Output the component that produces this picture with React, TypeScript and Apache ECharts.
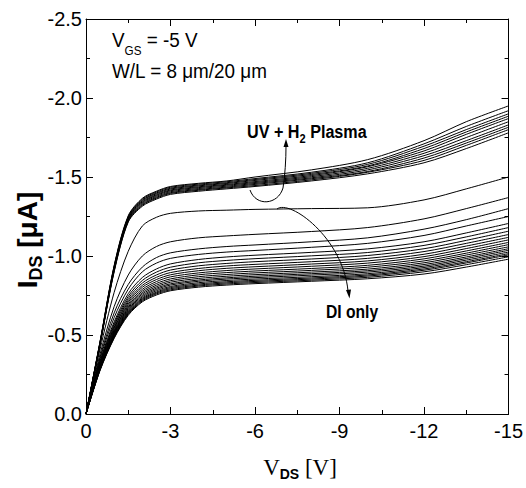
import React, { useEffect, useRef } from 'react';
import * as echarts from 'echarts';

// Drain voltage grid (V)
const vds = [0, -0.5, -1, -1.5, -2, -2.5, -3, -4, -5, -6, -8, -10, -12, -13.5, -15];

// UV + H2 plasma treated devices: I_DS (uA) at each vds point
const uvPlasmaCurves = [
  [0, -0.46, -0.94, -1.255, -1.365, -1.41, -1.44, -1.46, -1.475, -1.5, -1.545, -1.61, -1.73, -1.85, -1.95],
  [0, -0.458, -0.936, -1.25, -1.36, -1.405, -1.435, -1.455, -1.47, -1.49, -1.53, -1.59, -1.71, -1.82, -1.92],
  [0, -0.455, -0.932, -1.246, -1.354, -1.399, -1.429, -1.449, -1.464, -1.484, -1.523, -1.58, -1.695, -1.8, -1.9],
  [0, -0.453, -0.927, -1.241, -1.349, -1.394, -1.424, -1.444, -1.459, -1.478, -1.516, -1.57, -1.68, -1.785, -1.885],
  [0, -0.45, -0.923, -1.237, -1.343, -1.388, -1.418, -1.438, -1.453, -1.471, -1.509, -1.565, -1.665, -1.77, -1.87],
  [0, -0.448, -0.918, -1.233, -1.338, -1.383, -1.413, -1.433, -1.448, -1.465, -1.502, -1.555, -1.65, -1.75, -1.85],
  [0, -0.446, -0.914, -1.228, -1.332, -1.377, -1.407, -1.427, -1.442, -1.459, -1.495, -1.545, -1.635, -1.73, -1.83],
  [0, -0.444, -0.909, -1.224, -1.326, -1.371, -1.401, -1.421, -1.436, -1.453, -1.489, -1.535, -1.62, -1.715, -1.815],
  [0, -0.442, -0.905, -1.219, -1.321, -1.366, -1.396, -1.416, -1.431, -1.446, -1.482, -1.53, -1.605, -1.7, -1.8],
  [0, -0.44, -0.9, -1.215, -1.315, -1.36, -1.39, -1.41, -1.425, -1.44, -1.475, -1.52, -1.59, -1.68, -1.78],
];

// DI-only devices: I_DS (uA) at each vds point
const diOnlyCurves = [
  [0, -0.41, -0.77, -1.03, -1.19, -1.245, -1.27, -1.285, -1.29, -1.295, -1.3, -1.305, -1.355, -1.425, -1.5],
  [0, -0.38, -0.68, -0.88, -1.0, -1.06, -1.09, -1.115, -1.127, -1.137, -1.155, -1.18, -1.235, -1.3, -1.37],
  [0, -0.36, -0.64, -0.82, -0.93, -0.99, -1.02, -1.045, -1.06, -1.07, -1.09, -1.115, -1.17, -1.23, -1.3],
  [0, -0.35, -0.61, -0.79, -0.9, -0.955, -0.985, -1.01, -1.025, -1.035, -1.055, -1.08, -1.13, -1.19, -1.25],
  [0, -0.337, -0.583, -0.762, -0.864, -0.918, -0.95, -0.978, -0.994, -1.005, -1.023, -1.045, -1.09, -1.146, -1.206],
  [0, -0.329, -0.57, -0.745, -0.845, -0.898, -0.929, -0.957, -0.972, -0.983, -1.001, -1.022, -1.067, -1.121, -1.18],
  [0, -0.323, -0.559, -0.731, -0.829, -0.88, -0.911, -0.938, -0.953, -0.964, -0.981, -1.003, -1.046, -1.099, -1.157],
  [0, -0.317, -0.549, -0.718, -0.814, -0.865, -0.895, -0.921, -0.937, -0.947, -0.964, -0.985, -1.028, -1.08, -1.136],
  [0, -0.312, -0.541, -0.707, -0.802, -0.851, -0.881, -0.907, -0.922, -0.932, -0.949, -0.969, -1.011, -1.063, -1.118],
  [0, -0.308, -0.532, -0.696, -0.789, -0.838, -0.868, -0.893, -0.908, -0.918, -0.935, -0.955, -0.996, -1.047, -1.102],
  [0, -0.303, -0.525, -0.686, -0.778, -0.826, -0.855, -0.881, -0.895, -0.905, -0.921, -0.941, -0.982, -1.032, -1.086],
  [0, -0.299, -0.518, -0.677, -0.768, -0.815, -0.844, -0.869, -0.883, -0.893, -0.909, -0.929, -0.969, -1.018, -1.072],
  [0, -0.296, -0.512, -0.669, -0.759, -0.805, -0.834, -0.858, -0.872, -0.882, -0.898, -0.917, -0.957, -1.006, -1.058],
  [0, -0.292, -0.506, -0.661, -0.75, -0.796, -0.824, -0.848, -0.862, -0.872, -0.888, -0.907, -0.946, -0.994, -1.046],
  [0, -0.289, -0.501, -0.654, -0.742, -0.788, -0.816, -0.84, -0.854, -0.863, -0.879, -0.898, -0.936, -0.984, -1.036],
  [0, -0.286, -0.495, -0.647, -0.734, -0.78, -0.807, -0.831, -0.845, -0.854, -0.869, -0.888, -0.927, -0.974, -1.025],
  [0, -0.283, -0.491, -0.641, -0.728, -0.772, -0.8, -0.823, -0.837, -0.846, -0.861, -0.88, -0.918, -0.964, -1.015],
  [0, -0.281, -0.487, -0.636, -0.722, -0.766, -0.793, -0.816, -0.83, -0.839, -0.854, -0.873, -0.91, -0.956, -1.007],
  [0, -0.279, -0.483, -0.631, -0.716, -0.76, -0.786, -0.81, -0.823, -0.832, -0.847, -0.865, -0.9, -0.945, -0.995],
  [0, -0.276, -0.479, -0.625, -0.71, -0.753, -0.78, -0.803, -0.816, -0.825, -0.84, -0.856, -0.886, -0.93, -0.98],
];

// Axis ranges
const xRange = { min: -15, max: 0, interval: 3 };
const yRange = { min: -2.5, max: 0, interval: 0.5 };

const SANS = "'Liberation Sans', Arial, sans-serif";
const SERIF = "'Liberation Serif', 'Times New Roman', serif";

export default function App() {
  const ref = useRef<HTMLDivElement>(null);

  useEffect(() => {
    if (!ref.current) return;
    const chart = echarts.init(ref.current, null, { renderer: 'svg' });

    const mkSeries = (curves: number[][], name: string) =>
      curves.map((c, i) => ({
        type: 'line',
        name: `${name} ${i + 1}`,
        data: vds.map((v, j) => [v, c[j]]),
        showSymbol: false,
        symbol: 'none',
        smooth: 0.3,
        silent: true,
        lineStyle: { color: '#000', width: 1 },
        xAxisIndex: 0,
        yAxisIndex: 0,
      }));

    const axisCommon = {
      type: 'value',
      axisLine: { show: true, onZero: false, lineStyle: { color: '#000', width: 1 } },
      axisTick: { show: true, inside: true, length: 7, lineStyle: { color: '#000', width: 1 } },
      minorTick: { show: true, splitNumber: 2, length: 4, lineStyle: { color: '#000', width: 1 } },
      splitLine: { show: false },
      minorSplitLine: { show: false },
    };

    const labelStyle = { color: '#000', fontSize: 20, fontFamily: SANS };
    const txt = (text: string, x: number, y: number, fontSize: number, extra: any = {}) => ({
      type: 'text', x, y, scaleX: 0.9, z: 100,
      style: { text, fontSize, fontFamily: SANS, fill: '#000', verticalAlign: 'top', ...extra },
    });

    const option = {
      animation: false,
      backgroundColor: '#fff',
      grid: { left: 86, right: 13, top: 19, bottom: 74 },
      xAxis: [
        { ...axisCommon, ...xRange, inverse: true, position: 'bottom', axisLabel: { ...labelStyle, margin: 7 } },
        { ...axisCommon, ...xRange, inverse: true, position: 'top', axisLabel: { show: false } },
      ],
      yAxis: [
        {
          ...axisCommon, ...yRange, inverse: true, position: 'left',
          axisLabel: { ...labelStyle, margin: 4, formatter: (v: number) => v.toFixed(1) },
        },
        { ...axisCommon, ...yRange, inverse: true, position: 'right', axisLabel: { show: false } },
      ],
      series: [...mkSeries(uvPlasmaCurves, 'UV + H2 Plasma'), ...mkSeries(diOnlyCurves, 'DI only')],
      graphic: [
        txt('V', 112, 29, 21),
        txt('GS', 124.6, 44.5, 13),
        txt(' = -5 V', 141.5, 29, 21),
        txt('W/L = 8 \u03bcm/20 \u03bcm', 112, 60, 21),
        {
          type: 'text', x: 247, y: 121, scaleX: 0.85, z: 100,
          style: {
            text: '{a|UV + H}{s|2}{a| Plasma}',
            rich: {
              a: { fontSize: 19, fontFamily: SANS, fontWeight: 'bold', fill: '#000', lineHeight: 22 },
              s: { fontSize: 13, fontFamily: SANS, fontWeight: 'bold', fill: '#000', lineHeight: 12, padding: [14, 0, 0, 0] },
            },
          },
        },
        {
          type: 'text', x: 326, y: 303, scaleX: 0.87, z: 100,
          style: { text: 'DI only', fontSize: 18, fontFamily: SANS, fontWeight: 'bold', fill: '#000' },
        },
        // y axis name
        {
          type: 'text', x: 27, y: 240, rotation: Math.PI / 2, z: 100,
          style: {
            text: '{a|I}{s|DS}{a| [\u03bcA]}',
            align: 'center', verticalAlign: 'middle',
            rich: {
              a: { fontSize: 28, fontFamily: SANS, fontWeight: 'bold', fill: '#000', lineHeight: 30 },
              s: { fontSize: 18, fontFamily: SANS, fontWeight: 'bold', fill: '#000', lineHeight: 18, padding: [18, 0, 0, 0] },
            },
          },
        },
        // x axis name
        {
          type: 'text', x: 300, y: 467, z: 100,
          style: {
            text: '{a|V}{s|DS}{a| [V]}',
            align: 'center', verticalAlign: 'middle',
            rich: {
              a: { fontSize: 23, fontFamily: SERIF, fill: '#000', lineHeight: 26 },
              s: { fontSize: 14, fontFamily: SANS, fontWeight: 'bold', fill: '#000', lineHeight: 14, padding: [14, 0, 0, 0] },
            },
          },
        },
        // arrow to UV + H2 Plasma
        {
          type: 'bezierCurve', z: 100,
          shape: { x1: 250, y1: 190, cpx1: 256, cpy1: 207, cpx2: 278, cpy2: 205, x2: 283, y2: 188 },
          style: { stroke: '#000', lineWidth: 1, fill: 'none' },
        },
        {
          type: 'bezierCurve', z: 100,
          shape: { x1: 283, y1: 188, cpx1: 285, cpy1: 175, cpx2: 286, cpy2: 160, x2: 286, y2: 146 },
          style: { stroke: '#000', lineWidth: 1, fill: 'none' },
        },
        {
          type: 'polygon', z: 100,
          shape: { points: [[286, 139], [283.5, 147], [288.5, 147]] },
          style: { fill: '#000' },
        },
        // arrow to DI only
        {
          type: 'bezierCurve', z: 100,
          shape: { x1: 277, y1: 209, cpx1: 290, cpy1: 199, cpx2: 343, cpy2: 238, x2: 348, y2: 291 },
          style: { stroke: '#000', lineWidth: 1, fill: 'none' },
        },
        {
          type: 'polygon', z: 100,
          shape: { points: [[349.5, 298.5], [346, 290], [351, 289.5]] },
          style: { fill: '#000' },
        },
      ],
    };

    chart.setOption(option as any);
    return () => chart.dispose();
  }, []);

  return <div ref={ref} style={{ position: 'absolute', left: 0, top: 0, width: 526, height: 488 }} />;
}
